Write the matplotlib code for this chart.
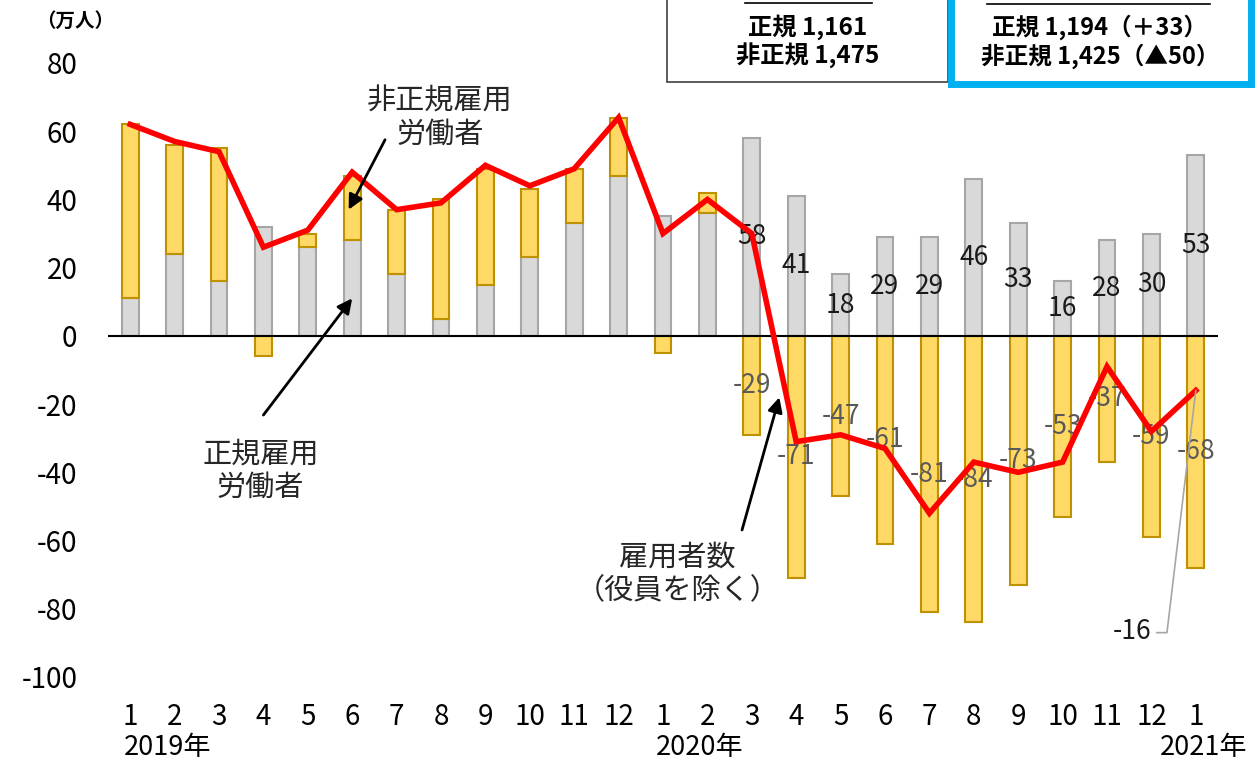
import numpy as np
import matplotlib
matplotlib.use('Agg')
import matplotlib.pyplot as plt
from matplotlib.patches import Rectangle

plt.rcParams['font.family'] = ['Noto Sans CJK JP', 'DejaVu Sans']

# --- DATA ---
months = ['1', '2', '3', '4', '5', '6', '7', '8', '9', '10', '11', '12',
          '1', '2', '3', '4', '5', '6', '7', '8', '9', '10', '11', '12', '1']
years = ['2019年', '2020年', '2021年']
regular = [11, 24, 16, 32, 26, 28, 18, 5, 15, 23, 33, 47,
           35, 36, 58, 41, 18, 29, 29, 46, 33, 16, 28, 30, 53]
non_regular = [51, 32, 39, -6, 4, 19, 19, 35, 34, 20, 16, 17,
               -5, 6, -29, -71, -47, -61, -81, -84, -73, -53, -37, -59, -68]
employees = [62, 57, 54, 26, 31, 48, 37, 39, 50, 44, 49, 64,
             30, 40, 30, -31, -29, -33, -52, -37, -40, -37, -9, -28, -16]
label_from = 14  # data labels shown from 2020-3

W, H = 1255, 765
fig = plt.figure(figsize=(W / 100, H / 100), dpi=100)

def fx(px):
    return px / W

def fy(py):
    return 1 - py / H

ax = fig.add_axes([fx(108), fy(677), fx(1218) - fx(108), fy(63) - fy(677)])

x = np.arange(len(months))
reg = np.array(regular)
nonreg = np.array(non_regular)
bottom = np.where(nonreg >= 0, reg, 0)

ax.bar(x, reg, width=0.38, color='#d9d9d9', edgecolor='#a6a6a6', linewidth=1.5, zorder=2)
ax.bar(x, nonreg, width=0.38, bottom=bottom, color='#ffd966', edgecolor='#bf9000',
       linewidth=1.5, zorder=2)
ax.axhline(0, color='black', linewidth=1.5, zorder=3)

# data labels (centered in bars)
for i in range(label_from, len(x)):
    ax.text(x[i], reg[i] / 2, str(reg[i]), ha='center', va='center',
            fontsize=19, color='#1a1a1a', zorder=4)
    ax.text(x[i], nonreg[i] / 2, str(nonreg[i]), ha='center', va='center',
            fontsize=19, color='#595959', zorder=4)

ax.plot(x, employees, color='#ff0000', linewidth=4, solid_joinstyle='miter', zorder=5)

# -16 label with leader line
ax.text(22.57, -86.8, str(employees[-1]), ha='center', va='center',
        fontsize=19, color='#1a1a1a', zorder=6)
ax.plot([23.12, 23.35, x[-1]], [-87.0, -87.0, employees[-1]],
        color='#a6a6a6', linewidth=1.2, zorder=6)

ax.set_xlim(-0.5, 24.5)
ax.set_ylim(-100, 80)
ax.set_yticks(np.arange(-100, 81, 20))
ax.set_yticklabels([str(v) for v in np.arange(-100, 81, 20)])
ax.set_xticks(x)
ax.set_xticklabels(months)
ax.tick_params(axis='both', length=0, labelsize=20, colors='black')
ax.tick_params(axis='x', pad=18)
ax.tick_params(axis='y', pad=22)
for s in ax.spines.values():
    s.set_visible(False)

# year labels
for xi, yr in zip([-0.15, 11.85, 23.2], years):
    ax.text(xi, -0.115, yr, transform=ax.get_xaxis_transform(), ha='left', va='center',
            fontsize=19.5, color='black')

# annotations
arrow = dict(arrowstyle='-|>', color='black', lw=2, mutation_scale=22, shrinkA=0, shrinkB=0)
ax.text(6.98, 63.9, '非正規雇用\n労働者', ha='center', va='center', fontsize=21,
        color='#262626', linespacing=1.15, zorder=6)
ax.annotate('', xy=(4.92, 37.0), xytext=(5.74, 57.5), arrowprops=arrow, zorder=6)
ax.text(2.93, -39.6, '正規雇用\n労働者', ha='center', va='center', fontsize=21,
        color='#262626', linespacing=1.15, zorder=6)
ax.annotate('', xy=(5.0, 11.0), xytext=(3.0, -23.2), arrowprops=arrow, zorder=6)
ax.text(12.32, -70.0, '雇用者数\n（役員を除く）', ha='center', va='center', fontsize=21,
        color='#262626', linespacing=1.15, zorder=6)
ax.annotate('', xy=(14.62, -18.0), xytext=(13.78, -56.9), arrowprops=arrow, zorder=6)

# unit label
fig.text(fx(75), fy(21), '（万人）', ha='center', va='center', fontsize=14,
         fontweight='bold', color='black')

# top boxes (clipped by figure edge)
fig.patches.append(Rectangle((fx(667), fy(82)), fx(948) - fx(667), fy(-10) - fy(82),
                             transform=fig.transFigure, facecolor='white',
                             edgecolor='#404040', linewidth=1.2, zorder=1))
fig.patches.append(Rectangle((fx(951), fy(84)), fx(1251) - fx(951), fy(-10) - fy(84),
                             transform=fig.transFigure, facecolor='white',
                             edgecolor='#00b0f0', linewidth=5, zorder=1))
fig.add_artist(plt.Line2D([fx(745), fx(872)], [fy(3), fy(3)], color='black', lw=1.2))
fig.add_artist(plt.Line2D([fx(987), fx(1210)], [fy(4), fy(4)], color='black', lw=1.2))
fig.text(fx(808), fy(27), '正規 1,161', ha='center', va='center', fontsize=17.5,
         fontweight='bold', color='black')
fig.text(fx(808), fy(56), '非正規 1,475', ha='center', va='center', fontsize=17.5,
         fontweight='bold', color='black')
fig.text(fx(1100), fy(27), '正規 1,194（＋33）', ha='center', va='center', fontsize=17,
         fontweight='bold', color='black')
fig.text(fx(1100), fy(56), '非正規 1,425（▲50）', ha='center', va='center', fontsize=17,
         fontweight='bold', color='black')

fig.savefig('out.png', dpi=100)
